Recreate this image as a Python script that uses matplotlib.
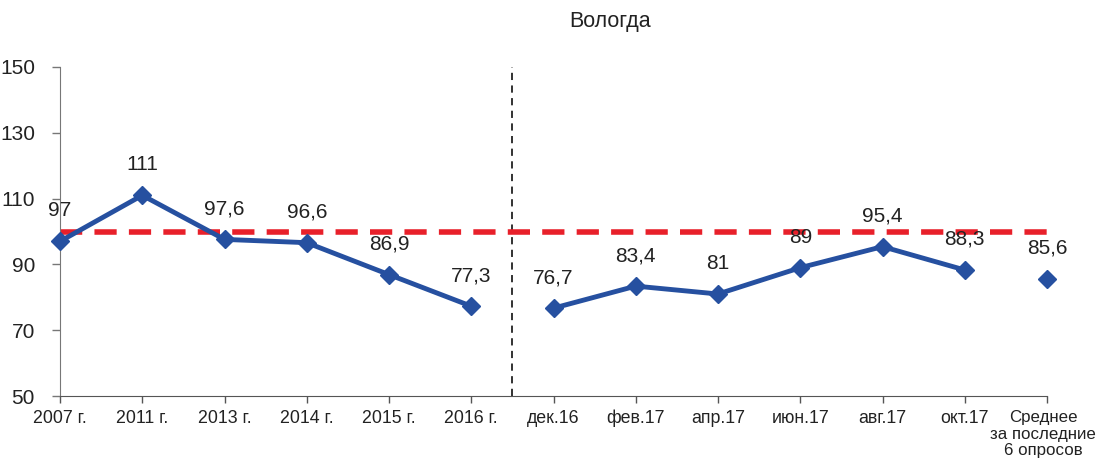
import numpy as np
import matplotlib.pyplot as plt
import matplotlib.transforms as mtransforms

plt.rcParams['font.family'] = ['Liberation Sans', 'DejaVu Sans']

# categories and values
categories = ['2007 г.', '2011 г.', '2013 г.', '2014 г.', '2015 г.', '2016 г.',
              'дек.16', 'фев.17', 'апр.17', 'июн.17', 'авг.17', 'окт.17',
              'Среднее\nза последние\n6 опросов']
years_vals = [97, 111, 97.6, 96.6, 86.9, 77.3]
months_vals = [76.7, 83.4, 81, 89, 95.4, 88.3]
avg_val = 85.6
labels = ['97', '111', '97,6', '96,6', '86,9', '77,3',
          '76,7', '83,4', '81', '89', '95,4', '88,3', '85,6']
ref_level = 100

blue = '#2650a0'
fig = plt.figure(figsize=(11, 4.68), dpi=100)
ax = fig.add_axes([60/1100, 1 - 396/468, (1047 - 60)/1100, (396 - 67)/468])

x_years = np.arange(len(years_vals))
x_months = np.arange(len(years_vals), len(years_vals) + len(months_vals))
x_avg = len(categories) - 1

ax.axhline(ref_level, color='#e8202a', lw=4, dashes=(4, 2.2), zorder=2)
ax.plot(x_years, years_vals, color=blue, lw=3.5, marker='D', ms=9.5, zorder=3, clip_on=False)
ax.plot(x_months, months_vals, color=blue, lw=3.5, marker='D', ms=9.5, zorder=3, clip_on=False)
ax.plot([x_avg], [avg_val], color=blue, marker='D', ms=9.5, ls='none', zorder=3, clip_on=False)
ax.axvline(5.5, color='#222222', lw=1.3, ls=(0, (4, 3)), zorder=1)

all_vals = years_vals + months_vals + [avg_val]
for i, (v, t) in enumerate(zip(all_vals, labels)):
    ax.annotate(t, (i, v), xytext=(0, 22), textcoords='offset points',
                ha='center', va='center', fontsize=15, color='#222222')

ax.set_xlim(0, len(categories) - 1)
ax.set_ylim(50, 150)
ax.set_yticks(range(50, 151, 20))
ax.set_xticks(range(len(categories)))
ax.set_xticklabels(categories, va='top', linespacing=1.15)
ax.tick_params(axis='x', labelsize=12.8, colors='#222222', length=5, width=1, pad=5)
ax.tick_params(axis='y', labelsize=15, colors='#222222', length=6, width=1, pad=12)
for lbl in ax.get_xticklabels():
    lbl.set_multialignment('center')
# last label sits close to the right edge
last = ax.get_xticklabels()[-1]
last.set_fontsize(12.2)
last.set_transform(last.get_transform() +
                   mtransforms.ScaledTranslation(-4/100, 0, fig.dpi_scale_trans))
for s in ['top', 'right']:
    ax.spines[s].set_visible(False)
ax.spines['left'].set_color('#777777')
ax.spines['bottom'].set_color('#555555')
ax.tick_params(axis='y', color='#777777')
ax.tick_params(axis='x', color='#555555')

fig.text(610/1100, 1 - 22/468, 'Вологда', ha='center', va='center', fontsize=15.5, color='#222222')

fig.savefig('out.png', dpi=100)
